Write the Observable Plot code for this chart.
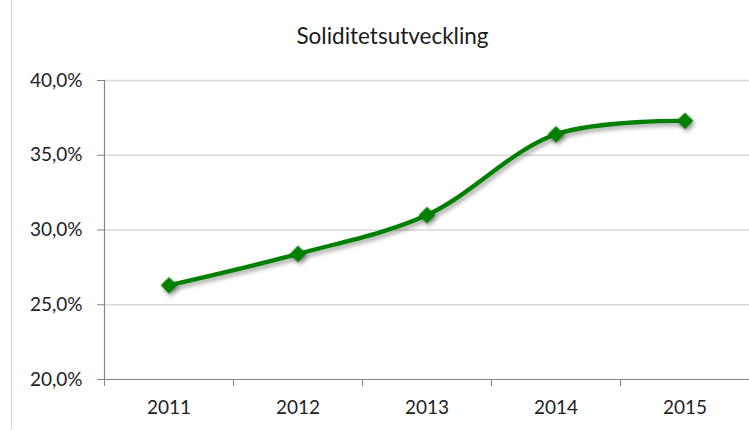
<!DOCTYPE html>
<html>
<head>
<meta charset="utf-8">
<script src="https://cdn.jsdelivr.net/npm/d3@7"></script>
<script src="https://cdn.jsdelivr.net/npm/@observablehq/plot@0.6"></script>
<style>
  html, body { margin: 0; padding: 0; background: #fff; }
  #wrap { position: relative; width: 749px; height: 430px; overflow: hidden; }
  #frame { position: absolute; left: 11px; top: 0; width: 1px; height: 430px; background: #d9d9d9; }
  #title { height: 60px; box-sizing: border-box; padding-left: 36px; padding-top: 22px; text-align: center;
           font-family: Lato, "Open Sans", sans-serif; font-size: 22.5px; color: #1a1a1a; line-height: 28px; }
  svg g[aria-label="line"], svg g[aria-label="dot"] { filter: drop-shadow(2px 3px 2px rgba(0,0,0,0.35)); }
</style>
</head>
<body>
<div id="wrap"><div id="frame"></div><div id="title"></div><div id="chart"></div></div>
<script>
const title = "Soliditetsutveckling";
const years = [2011, 2012, 2013, 2014, 2015];
const soliditet = [0.263, 0.284, 0.310, 0.364, 0.373];
const yTicks = [0.20, 0.25, 0.30, 0.35, 0.40];

const data = years.map((y, i) => ({year: y, value: soliditet[i]}));
const xDomain = [years[0] - 0.5, years[years.length - 1] + 0.5];
const xBoundaries = [...years.map(y => y - 0.5), years[years.length - 1] + 0.5];
const pct = d => (d * 100).toFixed(1).replace(".", ",") + "%";

document.getElementById("title").textContent = title;

const chart = Plot.plot({
  width: 749,
  height: 370,
  marginLeft: 104,
  marginRight: 0,
  marginTop: 20,
  marginBottom: 51,
  style: {fontFamily: "Lato, 'Open Sans', sans-serif", fontSize: "19px", color: "#222", background: "transparent"},
  x: {domain: xDomain},
  y: {domain: [yTicks[0], yTicks[yTicks.length - 1]]},
  marks: [
    Plot.gridY({ticks: yTicks.slice(1), stroke: "#d9d9d9", strokeOpacity: 1, strokeWidth: 1.5}),
    Plot.ruleY([yTicks[0]], {stroke: "#868686", strokeWidth: 1.2}),
    Plot.ruleX([xDomain[0]], {stroke: "#868686", strokeWidth: 1.2}),
    Plot.axisY({ticks: yTicks, tickSize: 7, tickPadding: 15, tickFormat: pct, stroke: "#868686", fill: "#222", label: null}),
    Plot.axisX({ticks: xBoundaries, tickSize: 7, tickFormat: () => "", stroke: "#868686", label: null}),
    Plot.axisX({ticks: years, tickSize: 0, tickPadding: 21, tickFormat: d => String(d), fill: "#222", label: null}),
    Plot.line(data, {x: "year", y: "value", curve: "catmull-rom", stroke: "#008000", strokeWidth: 4.3}),
    Plot.dot(data, {x: "year", y: "value", symbol: "diamond2", r: 7.5, fill: "#008000", stroke: "none"})
  ]
});
document.getElementById("chart").appendChild(chart);
</script>
</body>
</html>
